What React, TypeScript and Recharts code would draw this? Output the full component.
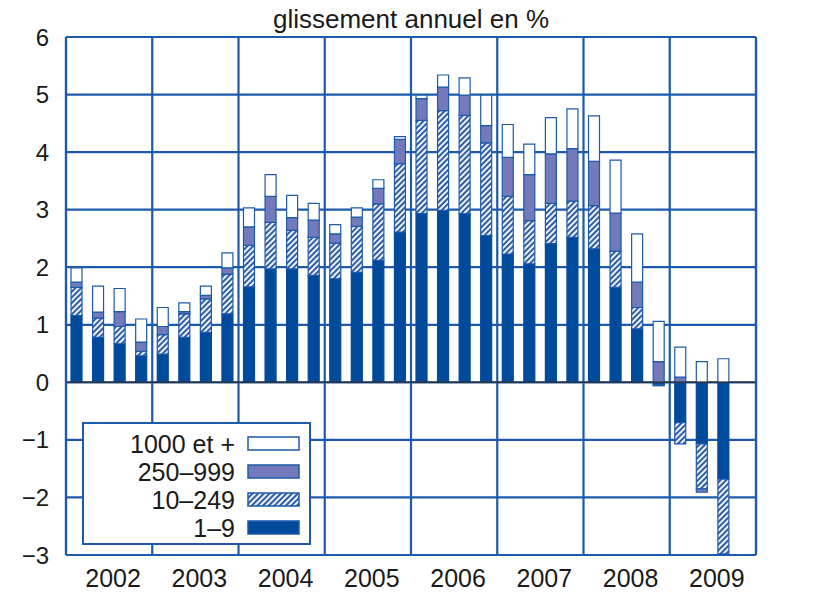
// Glissement annuel en % — stacked quarterly contributions by firm size, 2002–2009.
import { BarChart, Bar, XAxis, YAxis, CartesianGrid, ReferenceLine } from "recharts";

const quarters = [
  "2002T1", "2002T2", "2002T3", "2002T4",
  "2003T1", "2003T2", "2003T3", "2003T4",
  "2004T1", "2004T2", "2004T3", "2004T4",
  "2005T1", "2005T2", "2005T3", "2005T4",
  "2006T1", "2006T2", "2006T3", "2006T4",
  "2007T1", "2007T2", "2007T3", "2007T4",
  "2008T1", "2008T2", "2008T3", "2008T4",
  "2009T1", "2009T2", "2009T3", "2009T4",
];

// 1–9 salariés
const tpe = [
  1.16, 0.78, 0.67, 0.46, 0.49, 0.78, 0.87, 1.19,
  1.66, 1.97, 1.97, 1.86, 1.8, 1.91, 2.12, 2.61,
  2.93, 2.99, 2.93, 2.55, 2.23, 2.06, 2.41, 2.52,
  2.32, 1.65, 0.93, -0.04, -0.7, -1.07, -1.68, null,
];
// 10–249
const pme = [
  0.49, 0.34, 0.3, 0.08, 0.34, 0.41, 0.58, 0.69,
  0.72, 0.81, 0.67, 0.66, 0.62, 0.8, 0.98, 1.19,
  1.62, 1.73, 1.71, 1.61, 1.0, 0.75, 0.7, 0.63,
  0.75, 0.63, 0.37, -0.02, -0.37, -0.78, -1.3, null,
];
// 250–999
const eti = [
  0.09, 0.1, 0.26, 0.16, 0.14, 0.04, 0.06, 0.11,
  0.32, 0.45, 0.22, 0.3, 0.16, 0.16, 0.27, 0.42,
  0.38, 0.41, 0.35, 0.3, 0.68, 0.8, 0.86, 0.91,
  0.77, 0.66, 0.44, 0.36, 0.09, -0.06, 0, null,
];
// 1000 et +
const ge = [
  0.25, 0.45, 0.4, 0.4, 0.33, 0.15, 0.16, 0.26,
  0.33, 0.38, 0.39, 0.29, 0.16, 0.16, 0.15, 0.05,
  0.06, 0.21, 0.3, 0.53, 0.57, 0.53, 0.63, 0.69,
  0.79, 0.92, 0.84, 0.7, 0.52, 0.36, 0.41, null,
];

const yTicks = [-3, -2, -1, 0, 1, 2, 3, 4, 5, 6];

const BLUE = "#004a9c";
const GRID = "#1d5aab";
const PURPLE = "#7479bb";

const series = [
  { key: "tpe", label: "1–9", fill: BLUE },
  { key: "pme", label: "10–249", fill: "url(#hatch)" },
  { key: "eti", label: "250–999", fill: PURPLE },
  { key: "ge", label: "1000 et +", fill: "#ffffff" },
];

const data = quarters.map((q, i) => ({
  q,
  tpe: tpe[i],
  pme: pme[i],
  eti: eti[i],
  ge: ge[i],
}));

const W = 813;
const H = 592;
const LEFT = 66;
const RIGHT = 57;
const TOP = 37;
const BOTTOM = 37;
const BAND = (W - LEFT - RIGHT) / quarters.length;
const FONT = "'Liberation Sans', Arial, Helvetica, sans-serif";

const fmt = (v: number) => (v < 0 ? "\u2212" + Math.abs(v) : String(v));

function YearTick(props: any) {
  const { x, y, payload } = props;
  const v: string = payload.value;
  if (!v.endsWith("T2")) return <g />;
  return (
    <text
      x={x + BAND / 2 + 4}
      y={y}
      dy="0.71em"
      textAnchor="middle"
      fill="#1a1a1a"
      fontSize={25}
      fontFamily={FONT}
    >
      {v.slice(0, 4)}
    </text>
  );
}

function HatchDef({ id }: { id: string }) {
  return (
    <pattern id={id} patternUnits="userSpaceOnUse" width={4} height={4} patternTransform="rotate(45)">
      <rect width={4} height={4} fill="#eef1f8" />
      <rect width={2} height={4} fill="#2f5ea9" />
    </pattern>
  );
}

function LegendBox() {
  const rows = [...series].reverse();
  return (
    <div
      style={{
        position: "absolute",
        left: 82,
        top: 422,
        width: 225,
        height: 119,
        border: `2px solid ${GRID}`,
        background: "#fff",
        fontFamily: FONT,
        fontSize: 25,
        color: "#1a1a1a",
      }}
    >
      {rows.map((s, i) => (
        <div
          key={s.key}
          style={{
            position: "absolute",
            top: 6 + i * 28,
            left: 0,
            width: 225,
            height: 28,
            lineHeight: "28px",
          }}
        >
          <span style={{ position: "absolute", right: 225 - 151, top: 0, whiteSpace: "nowrap" }}>{s.label}</span>
          <svg width={54} height={16} style={{ position: "absolute", left: 163, top: 6 }}>
            <defs>
              <HatchDef id="hatch-legend" />
            </defs>
            <rect
              x={1}
              y={1}
              width={51}
              height={13}
              fill={s.key === "pme" ? "url(#hatch-legend)" : s.fill}
              stroke={GRID}
              strokeWidth={1.5}
            />
          </svg>
        </div>
      ))}
    </div>
  );
}

export default function App() {
  return (
    <div style={{ position: "relative", width: W, height: H, background: "#fff" }}>
      <style>{"body{margin:0}"}</style>
      <div
        style={{
          position: "absolute",
          top: 5,
          left: LEFT,
          width: W - LEFT - RIGHT,
          textAlign: "center",
          fontFamily: FONT,
          fontSize: 26,
          color: "#1a1a1a",
          lineHeight: "28px",
        }}
      >
        glissement annuel en %
      </div>
      <BarChart
        width={W}
        height={H}
        data={data}
        stackOffset="sign"
        barSize={11}
        margin={{ top: TOP, right: 0, bottom: 0, left: 0 }}
      >
        <defs>
          <HatchDef id="hatch" />
        </defs>
        <CartesianGrid
          yAxisId="left"
          stroke={GRID}
          strokeWidth={2.2}
          verticalCoordinatesGenerator={({ offset }: any) =>
            Array.from({ length: 9 }, (_, k) => offset.left + (k * offset.width) / 8)
          }
        />
        <XAxis
          dataKey="q"
          interval={0}
          height={BOTTOM}
          tickLine={false}
          tickSize={0}
          tickMargin={14}
          axisLine={{ stroke: GRID, strokeWidth: 2.2 }}
          tick={<YearTick />}
        />
        <YAxis
          yAxisId="left"
          orientation="left"
          width={LEFT}
          domain={[-3, 6]}
          ticks={yTicks}
          interval={0}
          tickLine={false}
          tickSize={0}
          tickMargin={17}
          tickFormatter={fmt}
          axisLine={{ stroke: GRID, strokeWidth: 2.2 }}
          tick={{ fill: "#1a1a1a", fontSize: 24, fontFamily: FONT }}
        />
        <YAxis
          yAxisId="right"
          orientation="right"
          width={RIGHT}
          domain={[-3, 6]}
          ticks={yTicks}
          interval={0}
          tickLine={false}
          tickSize={0}
          tickMargin={15}
          tickFormatter={fmt}
          axisLine={{ stroke: GRID, strokeWidth: 2.2 }}
          tick={{ fill: "#1a1a1a", fontSize: 24, fontFamily: FONT }}
        />
        {series.map((s) => (
          <Bar
            key={s.key}
            dataKey={s.key}
            yAxisId="left"
            stackId="a"
            fill={s.fill}
            stroke={s.key === "tpe" ? BLUE : GRID}
            strokeWidth={1.2}
            isAnimationActive={false}
          />
        ))}
        <ReferenceLine y={0} yAxisId="left" stroke="#333" strokeWidth={1.5} />
      </BarChart>
      <LegendBox />
    </div>
  );
}
